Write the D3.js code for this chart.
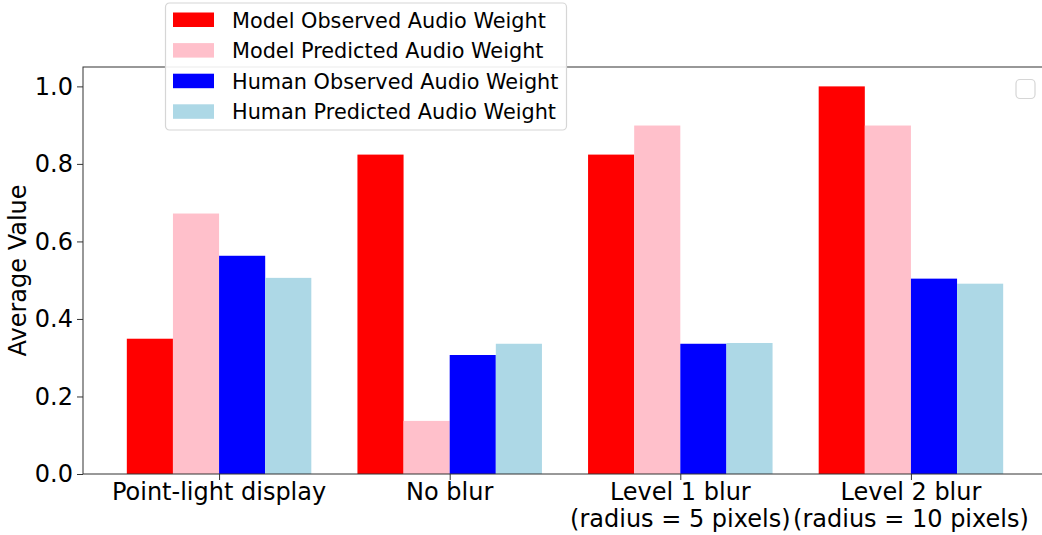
<!DOCTYPE html>
<html>
<head>
<meta charset="utf-8">
<script src="https://cdn.jsdelivr.net/npm/d3@7"></script>
<style>
  body { margin: 0; background: #fff; }
  svg { display: block; font-family: "DejaVu Sans", sans-serif; }
</style>
</head>
<body>
<script>
const categories = [
  ["Point-light display"],
  ["No blur"],
  ["Level 1 blur", "(radius = 5 pixels)"],
  ["Level 2 blur", "(radius = 10 pixels)"]
];
const seriesNames = [
  "Model Observed Audio Weight",
  "Model Predicted Audio Weight",
  "Human Observed Audio Weight",
  "Human Predicted Audio Weight"
];
const seriesColors = ["red", "pink", "blue", "lightblue"];
const modelObserved = [0.349, 0.824, 0.824, 1.0];
const modelPredicted = [0.672, 0.137, 0.899, 0.899];
const humanObserved = [0.563, 0.307, 0.336, 0.504];
const humanPredicted = [0.506, 0.336, 0.338, 0.491];
const yTicks = [0, 0.2, 0.4, 0.6, 0.8, 1.0];

const series = [modelObserved, modelPredicted, humanObserved, humanPredicted];

const size = { width: 1042, height: 535 };
const plot = { left: 83, right: 1047, top: 67, bottom: 474 };
const barWidth = 0.2;
const fontSize = 24;

const xScale = d3.scaleLinear()
  .domain([-0.59, categories.length - 1 + 0.59])
  .range([plot.left, plot.right]);
const yScale = d3.scaleLinear()
  .domain([0, 1.05])
  .range([plot.bottom, plot.top]);

const svg = d3.select('body')
  .append('svg')
  .attr('width', size.width)
  .attr('height', size.height);

// bars
series.forEach((vals, j) => {
  const offset = (j - (series.length - 1) / 2) * barWidth;
  svg.append('g')
    .selectAll('rect')
    .data(vals)
    .join('rect')
    .attr('x', (d, i) => xScale(i + offset - barWidth / 2))
    .attr('width', xScale(barWidth) - xScale(0))
    .attr('y', d => yScale(d))
    .attr('height', d => yScale(0) - yScale(d))
    .attr('fill', seriesColors[j]);
});

// axes
const yAxis = svg.append('g')
  .attr('transform', `translate(${plot.left},0)`)
  .call(d3.axisLeft(yScale).tickValues(yTicks).tickFormat(d3.format('.1f')).tickSize(6).tickPadding(4));
yAxis.select('.domain').remove();
yAxis.selectAll('.tick line').attr('stroke', '#333');
yAxis.selectAll('.tick text')
  .attr('font-size', fontSize)
  .attr('fill', '#000')
  .attr('font-family', '"DejaVu Sans", sans-serif');

const xAxis = svg.append('g')
  .attr('transform', `translate(0,${plot.bottom})`)
  .call(d3.axisBottom(xScale).tickValues(d3.range(categories.length)).tickFormat('').tickSize(6));
xAxis.select('.domain').remove();
xAxis.selectAll('.tick line').attr('stroke', '#333');

const labels = svg.append('g')
  .selectAll('text')
  .data(categories)
  .join('text')
  .attr('x', (d, i) => xScale(i))
  .attr('y', plot.bottom + 26)
  .attr('text-anchor', 'middle')
  .attr('font-size', fontSize)
  .attr('fill', '#000');
labels.selectAll('tspan')
  .data(d => d)
  .join('tspan')
  .attr('x', function () { return this.parentNode.getAttribute('x'); })
  .attr('dy', (d, k) => k === 0 ? 0 : 27)
  .text(d => d);

// spines
svg.append('rect')
  .attr('x', plot.left)
  .attr('y', plot.top)
  .attr('width', plot.right - plot.left)
  .attr('height', plot.bottom - plot.top)
  .attr('fill', 'none')
  .attr('stroke', '#333')
  .attr('stroke-width', 1);

svg.append('text')
  .attr('transform', `translate(26,${(plot.top + plot.bottom) / 2}) rotate(-90)`)
  .attr('text-anchor', 'middle')
  .attr('font-size', fontSize)
  .attr('fill', '#000')
  .text('Average Value');

// empty legend box in upper right
svg.append('rect')
  .attr('x', 1016).attr('y', 79.5)
  .attr('width', 19).attr('height', 19)
  .attr('rx', 4)
  .attr('fill', '#fff')
  .attr('stroke', '#d6d6d6')
  .attr('stroke-width', 1.2);

// legend
const legend = svg.append('g').attr('transform', 'translate(165,3)');
legend.append('rect')
  .attr('x', 0.5).attr('y', 0)
  .attr('width', 401).attr('height', 127)
  .attr('rx', 4)
  .attr('fill', '#fff')
  .attr('fill-opacity', 0.9)
  .attr('stroke', '#d6d6d6')
  .attr('stroke-width', 1.2);
const rows = legend.selectAll('g.row')
  .data(seriesNames)
  .join('g')
  .attr('class', 'row')
  .attr('transform', (d, i) => `translate(0,${17 + i * 30.6})`);
rows.append('rect')
  .attr('x', 8).attr('y', -7.5)
  .attr('width', 41).attr('height', 14.5)
  .attr('fill', (d, i) => seriesColors[i]);
rows.append('text')
  .attr('x', 67)
  .attr('y', 0)
  .attr('dy', '0.36em')
  .attr('font-size', 20.8)
  .attr('fill', '#000')
  .text(d => d);
</script>
</body>
</html>
